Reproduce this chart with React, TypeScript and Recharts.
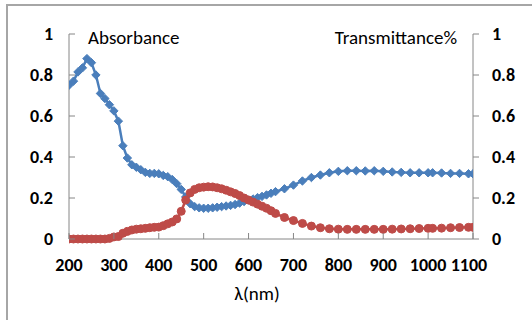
import React from 'react';
import { LineChart, Line, XAxis, YAxis } from 'recharts';

const wavelengths = [
  200, 210, 220, 230, 240, 250, 260, 270, 280, 290,
  300, 310, 320, 330, 340, 350, 360, 370, 380, 390,
  400, 410, 420, 430, 440, 450, 460, 470, 480, 490,
  500, 510, 520, 530, 540, 550, 560, 570, 580, 590,
  600, 610, 620, 630, 640, 650, 660, 680, 700, 720,
  740, 760, 780, 800, 820, 840, 860, 880, 900, 920,
  940, 960, 980, 1000, 1010, 1030, 1050, 1070, 1090, 1100,
];

const absorbance = [
  0.75, 0.77, 0.815, 0.835, 0.88, 0.86, 0.8, 0.71, 0.685, 0.655,
  0.625, 0.575, 0.455, 0.395, 0.362, 0.35, 0.338, 0.325, 0.32, 0.32,
  0.318, 0.31, 0.304, 0.29, 0.27, 0.242, 0.205, 0.172, 0.158, 0.152,
  0.15, 0.15, 0.152, 0.155, 0.158, 0.161, 0.164, 0.168, 0.175, 0.183,
  0.19, 0.195, 0.202, 0.208, 0.215, 0.223, 0.231, 0.245, 0.263, 0.283,
  0.3, 0.312, 0.323, 0.33, 0.333, 0.333, 0.332, 0.333, 0.33, 0.327,
  0.325, 0.323, 0.323, 0.323, 0.323, 0.322, 0.32, 0.32, 0.318, 0.318,
];

const transmittance = [
  0, 0, 0, 0, 0, 0, 0, 0, 0, 0.003,
  0.01, 0.012, 0.028, 0.037, 0.044, 0.048, 0.05, 0.052, 0.055, 0.057,
  0.058, 0.065, 0.074, 0.083, 0.098, 0.135, 0.19, 0.225, 0.242, 0.25,
  0.253, 0.255, 0.254, 0.25, 0.245, 0.238, 0.23, 0.222, 0.212, 0.2,
  0.19, 0.18, 0.17, 0.16, 0.15, 0.138, 0.125, 0.105, 0.09, 0.076,
  0.063, 0.055, 0.05, 0.048, 0.047, 0.047, 0.047, 0.047, 0.047, 0.048,
  0.049, 0.05, 0.051, 0.052, 0.052, 0.053, 0.055, 0.056, 0.057, 0.057,
];

const xTicks = [200, 300, 400, 500, 600, 700, 800, 900, 1000, 1100];
const yTicks = [0, 0.2, 0.4, 0.6, 0.8, 1];

const data = wavelengths.map((nm, i) => ({
  nm,
  abs: absorbance[i],
  trans: transmittance[i],
}));

const BLUE = '#4A7EBB';
const RED = '#BE4B48';
const AXIS = '#868686';
const FONT = 'Calibri, Carlito, "Open Sans", "Liberation Sans", sans-serif';

const W = 532;
const H = 320;
const LEFT = 69;
const RIGHT = 473;
const TOP = 34;
const BOTTOM = 239;

const Diamond = (props: any) => {
  const { cx, cy, index } = props;
  if (cx == null || cy == null) return null;
  const s = 4.2;
  return (
    <polygon
      key={`d-${index}`}
      points={`${cx},${cy - s} ${cx + s},${cy} ${cx},${cy + s} ${cx - s},${cy}`}
      fill={BLUE}
      stroke={BLUE}
      strokeWidth={1}
    />
  );
};

const LeftTick = (props: any) => {
  const { y, payload } = props;
  return (
    <g>
      <line x1={LEFT} x2={LEFT + 6} y1={y} y2={y} stroke={AXIS} />
      <text x={LEFT - 16} y={y} textAnchor="end" dominantBaseline="central"
        fontFamily={FONT} fontWeight="bold" fontSize={18} fill="#000">
        {String(payload.value)}
      </text>
    </g>
  );
};

const RightTick = (props: any) => {
  const { y, payload } = props;
  return (
    <g>
      <line x1={RIGHT} x2={RIGHT + 6} y1={y} y2={y} stroke={AXIS} />
      <text x={RIGHT + 19} y={y} textAnchor="start" dominantBaseline="central"
        fontFamily={FONT} fontWeight="bold" fontSize={18} fill="#000">
        {String(payload.value)}
      </text>
    </g>
  );
};

const BottomTick = (props: any) => {
  const { x, payload, index } = props;
  // Excel pulls the last label a little back inside the chart
  const last = index === xTicks.length - 1;
  return (
    <g>
      <line x1={x} x2={x} y1={BOTTOM} y2={BOTTOM - 6} stroke={AXIS} />
      <text x={last ? x - 4 : x} y={BOTTOM + 26} textAnchor="middle"
        dominantBaseline="central" fontFamily={FONT} fontWeight="bold" fontSize={18} fill="#000">
        {String(payload.value)}
      </text>
    </g>
  );
};

export default function App() {
  return (
    <div style={{ position: 'absolute', left: 0, top: 0, width: W, height: H, overflow: 'hidden', background: '#fff' }}>
      <div style={{ position: 'absolute', left: 6, top: 4, width: 560, height: 360, border: '2px solid #a6a6a6', boxSizing: 'border-box' }} />
      <div style={{ position: 'absolute', left: 0, top: 0 }}>
        <LineChart width={W} height={H} data={data}
          margin={{ top: TOP, right: 0, bottom: 0, left: 0 }}>
          <XAxis dataKey="nm" type="number" domain={[200, 1100]} ticks={xTicks}
            height={H - BOTTOM} stroke={AXIS} tickLine={false} tick={<BottomTick />}
            interval={0} allowDataOverflow />
          <YAxis yAxisId="left" orientation="left" width={LEFT} domain={[0, 1]}
            ticks={yTicks} stroke={AXIS} tickLine={false} tick={<LeftTick />} interval={0} />
          <YAxis yAxisId="right" orientation="right" width={W - RIGHT} domain={[0, 1]}
            ticks={yTicks} stroke={AXIS} tickLine={false} tick={<RightTick />} interval={0} />
          <Line yAxisId="left" type="linear" dataKey="abs" stroke={BLUE} strokeWidth={2.5}
            dot={<Diamond />} isAnimationActive={false} />
          <Line yAxisId="right" type="linear" dataKey="trans" stroke={RED} strokeWidth={2.5}
            dot={{ r: 4, fill: RED, stroke: RED, strokeWidth: 1 }} isAnimationActive={false} />
          <text x={88} y={37} dominantBaseline="central" fontFamily={FONT} fontSize={19} fill="#000">
            Absorbance
          </text>
          <text x={457} y={37} textAnchor="end" dominantBaseline="central" fontFamily={FONT} fontSize={19} fill="#000">
            Transmittance%
          </text>
          <text x={257} y={293} textAnchor="middle" dominantBaseline="central" fontFamily={FONT} fontSize={19} fill="#000">
            λ(nm)
          </text>
        </LineChart>
      </div>
    </div>
  );
}
